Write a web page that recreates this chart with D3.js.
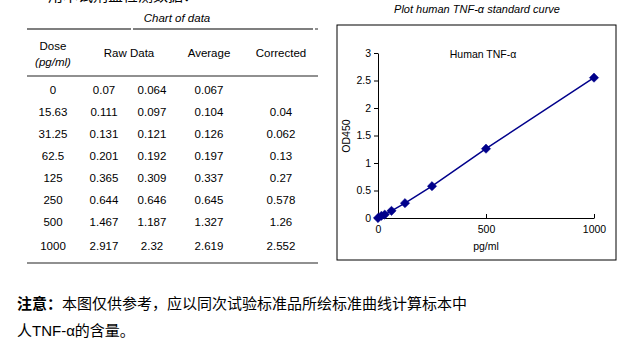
<!DOCTYPE html>
<html>
<head>
<meta charset="utf-8">
<script src="https://cdn.jsdelivr.net/npm/d3@7"></script>
<style>
  body { margin: 0; background: #fff; }
  text { font-family: "Liberation Sans", Arial, sans-serif; }
  .cjk { font-family: "Noto Sans CJK SC", sans-serif; }
</style>
</head>
<body>
<div id="chart"></div>
<script>
/* TNF-alpha standard curve: data table + plot */

const doses = [0, 15.63, 31.25, 62.5, 125, 250, 500, 1000];
const doseLabels = ["0", "15.63", "31.25", "62.5", "125", "250", "500", "1000"];
const raw1 = ["0.07", "0.111", "0.131", "0.201", "0.365", "0.644", "1.467", "2.917"];
const raw2 = ["0.064", "0.097", "0.121", "0.192", "0.309", "0.646", "1.187", "2.32"];
const average = ["0.067", "0.104", "0.126", "0.197", "0.337", "0.645", "1.327", "2.619"];
const corrected = ["", "0.04", "0.062", "0.13", "0.27", "0.578", "1.26", "2.552"];
const plotValues = [0, 0.04, 0.062, 0.13, 0.27, 0.578, 1.26, 2.552];
const yTicks = [0, 0.5, 1, 1.5, 2, 2.5, 3];
const xTicks = [0, 500, 1000];

const width = 634, height = 351;

const svg = d3.select("#chart")
    .append("svg")
    .attr("width", width)
    .attr("height", height);

svg.append("rect").attr("width", width).attr("height", height).attr("fill", "#fff");

// cut-off line of text at the very top (only its lower edge shows)
svg.append("text")
    .attr("class", "cjk")
    .attr("x", 48).attr("y", 1)
    .attr("font-size", 15)
    .text("用本试剂盒检测数据：");

// ---- table ----
const tbl = svg.append("g");
const tLeft = 27, tRight = 318;

tbl.append("text")
    .attr("x", 177).attr("y", 22)
    .attr("text-anchor", "middle")
    .attr("font-size", 11.5)
    .attr("font-style", "italic")
    .text("Chart of data");

tbl.append("line").attr("x1", tLeft).attr("x2", 131).attr("y1", 29).attr("y2", 29)
    .attr("stroke", "#555").attr("stroke-width", 1.3);
tbl.append("line").attr("x1", 133).attr("x2", 313).attr("y1", 29).attr("y2", 29)
    .attr("stroke", "#555").attr("stroke-width", 1.3);
tbl.append("line").attr("x1", 315).attr("x2", tRight).attr("y1", 29).attr("y2", 29)
    .attr("stroke", "#555").attr("stroke-width", 1.3);
tbl.append("line").attr("x1", tLeft).attr("x2", tRight).attr("y1", 76).attr("y2", 76)
    .attr("stroke", "#222").attr("stroke-width", 1.2);
tbl.append("line").attr("x1", tLeft).attr("x2", tRight).attr("y1", 263).attr("y2", 263)
    .attr("stroke", "#222").attr("stroke-width", 1.2);

const head = tbl.append("g").attr("font-size", 11.5).attr("text-anchor", "middle");
head.append("text").attr("x", 53).attr("y", 50).text("Dose");
head.append("text").attr("x", 53).attr("y", 66).attr("font-style", "italic").text("(pg/ml)");
head.append("text").attr("x", 129).attr("y", 57).text("Raw Data");
head.append("text").attr("x", 209).attr("y", 57).text("Average");
head.append("text").attr("x", 281).attr("y", 57).text("Corrected");

const rowY = d3.scalePoint().domain(doseLabels).range([94, 248]);
const cols = [
    {x: 53, vals: doseLabels},
    {x: 104, vals: raw1},
    {x: 152, vals: raw2},
    {x: 209, vals: average},
    {x: 281, vals: corrected}
];
for (let c of cols) {
    tbl.append("g")
        .selectAll("text")
        .data(c.vals)
        .join("text")
        .attr("x", c.x)
        .attr("y", (d, i) => rowY(doseLabels[i]) + (i == 7 ? 2 : 0))
        .attr("text-anchor", "middle")
        .attr("font-size", 11.5)
        .text(d => d);
}

// ---- plot ----
svg.append("text")
    .attr("x", 477).attr("y", 13)
    .attr("text-anchor", "middle")
    .attr("font-size", 11)
    .attr("font-style", "italic")
    .text("Plot human TNF-α standard curve");

svg.append("rect")
    .attr("x", 337).attr("y", 25)
    .attr("width", 279).attr("height", 235)
    .attr("fill", "none").attr("stroke", "#000").attr("stroke-width", 1);

const x = d3.scaleLinear().domain([0, 1000]).range([378, 594]);
const y = d3.scaleLinear().domain([0, 3]).range([218, 53]);

svg.append("g")
    .attr("transform", `translate(0,${y(0)})`)
    .call(d3.axisBottom(x).tickValues(xTicks).tickSizeInner(-4).tickSizeOuter(0).tickPadding(8).tickFormat(d3.format("d")))
    .call(g => g.selectAll("text").attr("font-size", 10.5).attr("font-family", "Liberation Sans, Arial, sans-serif").attr("fill", "#000"));

svg.append("g")
    .attr("transform", `translate(${x(0)},0)`)
    .call(d3.axisLeft(y).tickValues(yTicks).tickSizeInner(4).tickSizeOuter(0).tickPadding(3).tickFormat(d => d))
    .call(g => g.selectAll("text").attr("font-size", 10.5).attr("font-family", "Liberation Sans, Arial, sans-serif").attr("fill", "#000"));

svg.append("text")
    .attr("x", 483).attr("y", 58)
    .attr("text-anchor", "middle")
    .attr("font-size", 10.5)
    .text("Human TNF-α");

svg.append("text")
    .attr("x", 486).attr("y", 250)
    .attr("text-anchor", "middle")
    .attr("font-size", 10.5)
    .text("pg/ml");

svg.append("text")
    .attr("transform", `translate(350,136) rotate(-90)`)
    .attr("text-anchor", "middle")
    .attr("font-size", 10.5)
    .text("OD450");

const pts = doses.map((d, i) => ({dose: d, od: plotValues[i]}));

svg.append("path")
    .datum(pts)
    .attr("fill", "none")
    .attr("stroke", "#00008b")
    .attr("stroke-width", 1.5)
    .attr("d", d3.line().x(d => x(d.dose)).y(d => y(d.od)));

svg.append("g")
    .selectAll("path")
    .data(pts)
    .join("path")
    .attr("transform", d => `translate(${x(d.dose)},${y(d.od)})`)
    .attr("d", d3.symbol(d3.symbolDiamond2, 55))
    .attr("fill", "#00008b")
    .attr("stroke", "#00008b")
    .attr("stroke-width", 0.5);

// ---- note ----
const note = svg.append("text")
    .attr("class", "cjk")
    .attr("x", 17).attr("y", 309)
    .attr("font-size", 15);
note.append("tspan").attr("font-weight", "bold").text("注意：");
note.append("tspan").text("本图仅供参考，应以同次试验标准品所绘标准曲线计算标本中");

const note2 = svg.append("text")
    .attr("class", "cjk")
    .attr("x", 17).attr("y", 336)
    .attr("font-size", 15);
note2.append("tspan").text("人");
note2.append("tspan").attr("font-family", "Liberation Sans, Arial, sans-serif").text("TNF-α");
note2.append("tspan").text("的含量。");
</script>
</body>
</html>
